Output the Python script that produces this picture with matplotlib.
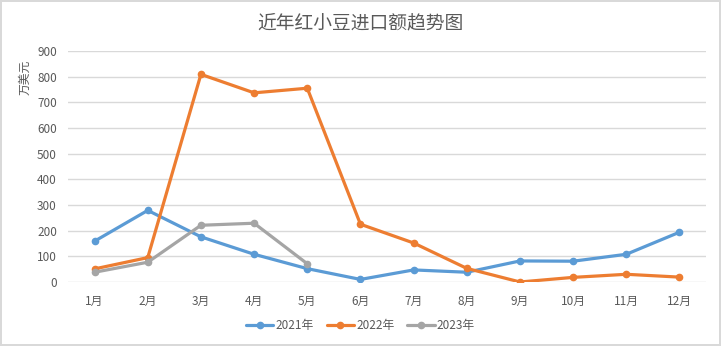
import numpy as np
import matplotlib.pyplot as plt

plt.rcParams['font.family'] = ['Noto Sans CJK SC', 'DejaVu Sans']

months = ['1月', '2月', '3月', '4月', '5月', '6月', '7月', '8月', '9月', '10月', '11月', '12月']
y2021 = [159, 279, 176, 108, 52, 10, 47, 38, 82, 81, 108, 194]
y2022 = [51, 95, 809, 737, 755, 225, 152, 53, 0, 18, 30, 19]
y2023 = [38, 77, 221, 229, 71]

colors = {'2021年': '#5B9BD5', '2022年': '#ED7D31', '2023年': '#A5A5A5'}
text_col = '#595959'

fig = plt.figure(figsize=(7.21, 3.46), dpi=100)
fig.patch.set_edgecolor('#D9D9D9')
fig.patch.set_linewidth(1.5)
ax = fig.add_axes([0.0943, 0.185, 0.885, 0.6676])

x = np.arange(1, 13)
for label, ys in (('2021年', y2021), ('2022年', y2022), ('2023年', y2023)):
    ax.plot(x[:len(ys)], ys, color=colors[label], lw=2.3, marker='o', ms=4.5,
            label=label, solid_capstyle='round')

ax.set_xlim(0.5, 12.5)
ax.set_ylim(0, 900)
ax.set_yticks(range(0, 901, 100))
ax.set_xticks(x)
ax.set_xticklabels(months)
ax.grid(axis='y', color='#D9D9D9', lw=1)
ax.set_axisbelow(True)
for s in ax.spines.values():
    s.set_visible(False)
ax.tick_params(length=0, colors=text_col, labelsize=8.5)
ax.tick_params(axis='x', pad=9)
ax.tick_params(axis='y', pad=8)

fig.text(0.5, 0.935, '近年红小豆进口额趋势图', ha='center', va='center',
         fontsize=13.5, color=text_col)
fig.text(0.035, 0.775, '万美元', rotation=90, ha='center', va='center',
         fontsize=8.5, color=text_col)

fig.legend(loc='center', bbox_to_anchor=(0.5, 0.06), ncol=3, frameon=False,
           fontsize=8.5, labelcolor=text_col, handlelength=2.3,
           columnspacing=1.1, handletextpad=0.2)

fig.savefig('out.png', dpi=100)
